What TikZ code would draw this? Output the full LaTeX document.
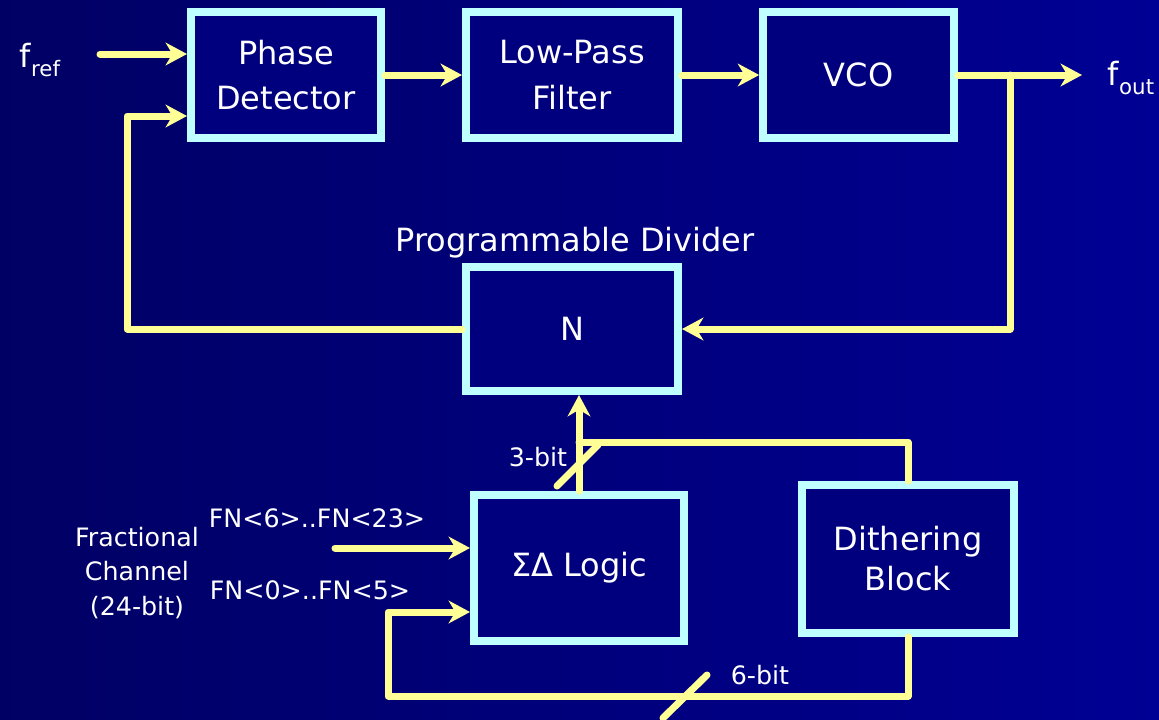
\documentclass[tikz,border=0pt]{standalone}
\usepackage{fontspec}
\setmainfont{DejaVu Sans}
\usetikzlibrary{arrows.meta}
\definecolor{slideleft}{RGB}{0,0,100}
\definecolor{slideright}{RGB}{0,0,148}
\definecolor{boxfill}{RGB}{0,0,126}
\definecolor{boxedge}{RGB}{192,255,255}
\definecolor{wireyellow}{RGB}{255,255,150}

\tikzset{
  blk/.style={draw=boxedge,fill=boxfill,line width=6pt,text=white,align=center,
    font=\fontsize{24}{34}\selectfont},
  wire/.style={draw=wireyellow,line width=5.25pt,line cap=round,line join=round},
  sig/.style={wire,-{Stealth[length=16pt,width=17pt,inset=5pt]}},
  lbl/.style={text=white,align=center,font=\fontsize{19}{26}\selectfont},
  big/.style={text=white,align=center,font=\fontsize{24}{34}\selectfont},
}

\begin{document}
\begin{tikzpicture}[x=0.75pt,y=-0.75pt]
  % background
  \shade[left color=slideleft,right color=slideright](0,0)rectangle(1159,719);
  \useasboundingbox (0,0) rectangle (1159,719);

  % blocks
  \node[blk,minimum width=142.5pt,minimum height=94.5pt] (pd) at (286,75) {Phase\\Detector};
  \node[blk,minimum width=159pt,minimum height=94.5pt] (lpf) at (572,75) {Low-Pass\\Filter};
  \node[blk,minimum width=143pt,minimum height=95pt] (vco) at (858.5,75) {VCO};
  \node[blk,minimum width=159pt,minimum height=93pt] (div) at (572,329) {N};
  \node[blk,minimum width=157.5pt,minimum height=109.5pt] (sd) at (579,568) {ΣΔ Logic};
  \node[blk,minimum width=159pt,minimum height=111pt] (dith) at (908,559) {Dithering\\[-4pt]Block};

  % labels
  \node[big] (fref) at (40,60) {f\raisebox{-7pt}{\fontsize{16}{16}\selectfont ref}};
  \node[big] (fout) at (1131,78) {f\raisebox{-7pt}{\fontsize{16}{16}\selectfont out}};
  \node[big] (divname) at (575,243) {Programmable Divider};
  \node[lbl] (frac) at (137,573) {Fractional\\Channel\\(24-bit)};
  \node[lbl] (fnhi) at (317,518) {FN<6>..FN<23>};
  \node[lbl] (fnlo) at (310,590) {FN<0>..FN<5>};
  \node[lbl] (bits3) at (538,457) {3-bit};
  \node[lbl] (bits6) at (760,675) {6-bit};

  % forward path
  \coordinate (fin) at (100,54);
  \draw[sig] (fin) -- (fin -| pd.west);
  \draw[sig] (pd) -- (lpf);
  \draw[sig] (lpf) -- (vco);
  \coordinate (fo) at (1082,75);
  \draw[sig] (vco) -- (fo);

  % divider loop
  \coordinate (br) at (1010,75);
  \draw[sig] (br) |- (div.east);
  \coordinate (fb) at (127,116);
  \draw[sig] (div.west) -| (fb) -- (fb -| pd.west);

  % sigma-delta bus
  \draw[sig] (sd.north) -- (sd.north |- div.south);
  \coordinate (tb) at (579,442);
  \draw[wire] (tb) -| (dith.north);
  \draw[wire] (557,486) -- (598,445);

  % fractional inputs
  \coordinate (fa) at (335,548);
  \draw[sig] (fa) -- (fa -| sd.west);
  \coordinate (lb) at (388,696);
  \coordinate (lt) at (388,612);
  \draw[sig] (dith.south) |- (lb) -- (lt) -- (lt -| sd.west);
  \draw[wire] (663,718) -- (707,675);
\end{tikzpicture}
\end{document}
